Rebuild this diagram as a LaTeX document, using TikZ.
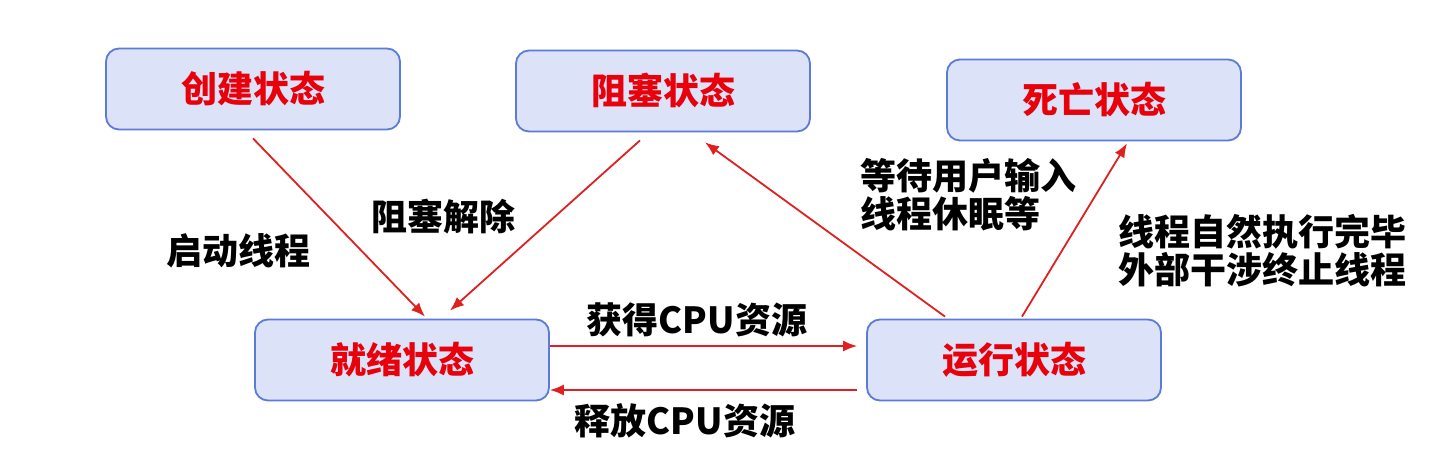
\documentclass[tikz,border=0pt]{standalone}
\usepackage{fontspec}
\newfontfamily\cjk{Noto Sans CJK SC}
\usepackage{tikz}
\usetikzlibrary{arrows.meta}
\definecolor{boxfill}{HTML}{DCE2F8}
\definecolor{boxline}{HTML}{5B7BD6}
\definecolor{arrowred}{HTML}{E02020}
\definecolor{textred}{HTML}{E8000B}
\tikzset{>=latex}
\tikzset{
  statebox/.style={draw=boxline, line width=1.8pt, fill=boxfill, rounded corners=13pt,
    minimum width=294pt, minimum height=81pt, inner sep=0pt,
    font=\cjk\bfseries\fontsize{36}{40}\selectfont, text=textred},
  edgelabel/.style={font=\cjk\bfseries\fontsize{36}{38}\selectfont, text=black, inner sep=0pt},
  trans/.style={->, draw=arrowred, line width=1.8pt, >={Latex[length=14pt,width=11pt]}}
}

\begin{document}
\begin{tikzpicture}[x=1pt, y=-1pt]
      \useasboundingbox (0,0) rectangle (1443,448);
      % states
      \node[statebox] (create) at (253,89) {创建状态};
      \node[statebox] (block) at (663,91) {阻塞状态};
      \node[statebox] (dead) at (1094,100) {死亡状态};
      \node[statebox] (ready) at (402,360) {就绪状态};
      \node[statebox] (run) at (1014,360) {运行状态};
      % transitions
      \draw[trans] ([yshift=-8pt]create.south) -- ([xshift=23pt,yshift=2pt]ready.north);
      \draw[trans] ([xshift=-23pt,yshift=-8pt]block.south) -- ([xshift=48pt,yshift=8pt]ready.north);
      \draw[trans] ([xshift=-69pt,yshift=2pt]run.north) -- ([xshift=42pt,yshift=-10pt]block.south);
      \draw[trans] ([xshift=8pt,yshift=2pt]run.north) -- ([xshift=33pt,yshift=-2pt]dead.south);
      \draw[trans] ([yshift=14pt]ready.east) -- ([xshift=-9pt,yshift=14pt]run.west);
      \draw[trans] ([xshift=-9pt,yshift=-30pt]run.west) -- ([yshift=-30pt]ready.east);
      % labels
      \node[edgelabel] (start) at (238,251) {启动线程};
      \node[edgelabel] (unblock) at (443,217) {阻塞解除};
      \node[edgelabel, align=left, anchor=west] (wait) at (860,195) {等待用户输入\\线程休眠等};
      \node[edgelabel, align=left, anchor=west] (finish) at (1118,251) {线程自然执行完毕\\外部干涉终止线程};
      \node[edgelabel] (getcpu) at (697,320) {获得CPU资源};
      \node[edgelabel] (freecpu) at (685,421) {释放CPU资源};
\end{tikzpicture}
\end{document}
